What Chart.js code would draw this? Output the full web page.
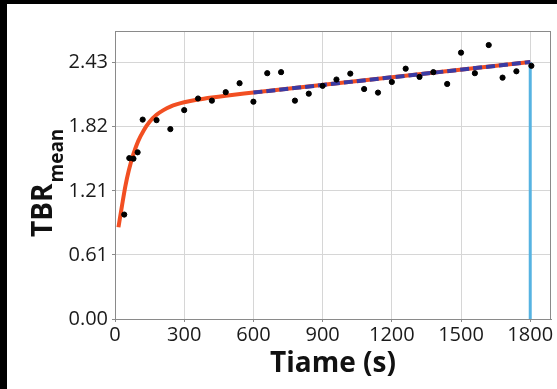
<!DOCTYPE html>
<html>
<head>
<meta charset="utf-8">
<script src="https://cdn.jsdelivr.net/npm/chart.js@4.4.1/dist/chart.umd.min.js"></script>
<style>
  html, body { margin: 0; padding: 0; background: #000; width: 557px; height: 389px; overflow: hidden; }
  #wrap { position: absolute; left: 7px; top: 4px; width: 550px; height: 385px; background: #fff; }
</style>
</head>
<body>
<div id="wrap"><canvas id="myChart" width="550" height="385"></canvas></div>
<script>
// measured samples (time in s, TBR mean)
const sampleTimes = [40, 62, 80, 98, 120, 180, 240, 300, 360, 420, 480, 540, 600, 660, 720, 780, 840,
    900, 960, 1020, 1080, 1140, 1200, 1260, 1320, 1380, 1440, 1500, 1560, 1620, 1680, 1740, 1805];
const sampleValues = [0.99, 1.525, 1.52, 1.58, 1.89, 1.885, 1.80, 1.98, 2.09, 2.07, 2.15, 2.235, 2.06,
    2.33, 2.34, 2.07, 2.136, 2.21, 2.27, 2.326, 2.18, 2.146, 2.247, 2.373, 2.295, 2.34, 2.228, 2.525,
    2.33, 2.597, 2.288, 2.348, 2.40];

// fitted curve
const fitTimes = [15, 30, 45, 60, 80, 100, 125, 150, 180, 210, 240, 270, 300, 360, 420, 480, 600, 1800];
const fitValues = [0.87, 1.07, 1.26, 1.41, 1.565, 1.684, 1.79, 1.87, 1.936, 1.98, 2.013, 2.036, 2.054,
    2.08, 2.10, 2.117, 2.146, 2.436];

// linear part (dashed)
const linTimes = [600, 1800];
const linValues = [2.146, 2.436];

// vertical marker at end of scan
const markerTimes = [1800, 1800];
const markerValues = [0, 2.436];

const xTicks = [0, 300, 600, 900, 1200, 1500, 1800];
const xTickLabels = ['0', '300', '600', '900', '1200', '1500', '1800'];
const yTicks = [0, 0.6075, 1.215, 1.8225, 2.43];
const yTickLabels = ['0.00', '0.61', '1.21', '1.82', '2.43'];

const toPoints = (xs, ys) => xs.map((x, i) => ({ x: x, y: ys[i] }));

const frame = {
    id: 'frame',
    beforeDatasetsDraw(chart) {
        const a = chart.chartArea;
        const ctx = chart.ctx;
        ctx.save();
        ctx.strokeStyle = '#8a8a8a';
        ctx.lineWidth = 1;
        ctx.strokeRect(Math.round(a.left) + 0.5, Math.round(a.top) + 0.5,
            Math.round(a.right - a.left) - 1, Math.round(a.bottom - a.top));
        ctx.restore();
    },
    afterDraw(chart) {
        const ctx = chart.ctx;
        ctx.save();
        ctx.fillStyle = '#111';
        ctx.translate(45, 233);
        ctx.rotate(-Math.PI / 2);
        ctx.textBaseline = 'alphabetic';
        ctx.textAlign = 'left';
        ctx.font = 'bold 28px "Open Sans"';
        ctx.fillText('TBR', 0, 0);
        const w = ctx.measureText('TBR').width;
        ctx.font = 'bold 19px "Open Sans"';
        ctx.fillText('mean', w + 1, 11);
        ctx.restore();
    }
};

const ctx = document.getElementById('myChart').getContext('2d');
const myChart = new Chart(ctx, {
    type: 'scatter',
    data: {
        datasets: [{
            label: 'TBR',
            data: toPoints(sampleTimes, sampleValues),
            backgroundColor: '#000',
            borderColor: '#000',
            pointRadius: 2.6,
            order: 0
        }, {
            label: 'linear',
            data: toPoints(linTimes, linValues),
            showLine: true,
            borderColor: '#3b3ba3',
            borderWidth: 4,
            borderDash: [9, 4],
            pointRadius: 0,
            order: 1
        }, {
            label: 'fit',
            data: toPoints(fitTimes, fitValues),
            showLine: true,
            borderColor: '#f24f22',
            borderWidth: 4,
            cubicInterpolationMode: 'monotone',
            pointRadius: 0,
            order: 2
        }, {
            label: 'end',
            data: toPoints(markerTimes, markerValues),
            showLine: true,
            borderColor: '#56b3e2',
            borderWidth: 3,
            pointRadius: 0,
            order: 3
        }]
    },
    options: {
        responsive: false,
        animation: false,
        layout: { padding: { top: 27, right: 6, left: 0, bottom: 0 } },
        plugins: {
            legend: { display: false },
            tooltip: { enabled: false }
        },
        scales: {
            x: {
                type: 'linear',
                min: 0,
                max: 1890,
                afterBuildTicks: (s) => { s.ticks = xTicks.map(v => ({ value: v })); },
                afterFit: (s) => { s.height = 70; },
                grid: { color: '#d6d6d6', tickColor: '#8a8a8a', tickLength: 3 },
                border: { color: '#8a8a8a' },
                ticks: {
                    color: '#1a1a1a',
                    padding: 1,
                    maxRotation: 0,
                    font: { family: '"Open Sans"', size: 20 },
                    callback: (v, i) => xTickLabels[i]
                },
                title: {
                    display: true,
                    text: 'Tiame (s)',
                    color: '#111',
                    font: { family: '"Open Sans"', size: 28, weight: 'bold' },
                    padding: { top: 0, bottom: 8 }
                }
            },
            y: {
                min: 0,
                max: 2.73,
                afterBuildTicks: (s) => { s.ticks = yTicks.map(v => ({ value: v })); },
                afterFit: (s) => { s.width = 108; },
                grid: { color: '#d6d6d6', tickColor: '#8a8a8a', tickLength: 3 },
                border: { color: '#8a8a8a' },
                ticks: {
                    color: '#1a1a1a',
                    padding: 4,
                    font: { family: '"Open Sans"', size: 20 },
                    callback: (v, i) => yTickLabels[i]
                }
            }
        }
    },
    plugins: [frame]
});
</script>
</body>
</html>
